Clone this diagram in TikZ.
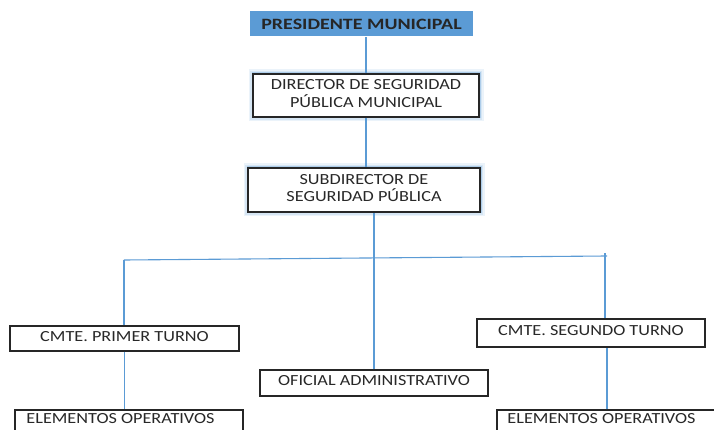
\documentclass[tikz,border=0pt]{standalone}
\usepackage{fontspec}
\setmainfont{Carlito}
\definecolor{lineblue}{RGB}{91,155,213}
\definecolor{headblue}{RGB}{91,155,213}
\definecolor{txt}{RGB}{40,40,40}
\newcommand{\stretchtxt}[1]{\scalebox{1.24}[1.05]{\begin{tabular}{@{}c@{}}#1\end{tabular}}}
\newcommand{\stretchbold}[1]{\scalebox{1.33}[1.05]{#1}}
\renewcommand{\arraystretch}{0.88}
\tikzset{
  box/.style={draw=black!85, line width=1.1pt, rectangle, inner sep=0pt, text=txt,
    font=\fontsize{14.7}{16}\selectfont},
  glowbox/.style={box, fill=white,
    preaction={draw=lineblue!12, line width=9pt},
    preaction={draw=lineblue!25, line width=6pt},
    preaction={draw=lineblue!50, line width=3pt}},
  conn/.style={draw=lineblue, line width=1.1pt},
  lbl/.style={text=txt, inner sep=0pt, font=\fontsize{14.7}{16}\selectfont},
}
\begin{document}
\begin{tikzpicture}[x=1pt,y=-1pt]
\useasboundingbox (0,0) rectangle (714,430);
\fill[white] (0,0) rectangle (714,430);
\node[rectangle, fill=headblue, minimum width=223pt, minimum height=25pt, inner sep=0pt,
  text=black!85, font=\fontsize{15}{16}\selectfont\bfseries] (pres) at (361.5,24) {\stretchbold{PRESIDENTE MUNICIPAL}};
\node[glowbox, minimum width=226pt, minimum height=43pt] (dir) at (366,95.5) {\stretchtxt{DIRECTOR DE SEGURIDAD\\PÚBLICA MUNICIPAL}};
\node[glowbox, minimum width=232pt, minimum height=44pt] (sub) at (364,190) {\stretchtxt{SUBDIRECTOR DE\\SEGURIDAD PÚBLICA}};
\node[box, minimum width=229pt, minimum height=25pt] (prim) at (124.5,338.5) {\stretchtxt{CMTE. PRIMER TURNO}};
\node[box, minimum width=228pt, minimum height=26pt] (ofi) at (374,383) {\stretchtxt{OFICIAL ADMINISTRATIVO}};
\node[box, minimum width=228pt, minimum height=28pt] (seg) at (591,333) {\stretchtxt{CMTE. SEGUNDO TURNO}};
\node[box, minimum width=228pt, minimum height=23pt] (el1) at (129,421.5) {};
\node[lbl] (el1t) at (120.5,420.5) {\stretchtxt{ELEMENTOS OPERATIVOS}};
\node[box, minimum width=220pt, minimum height=23pt] (el2) at (607,421.5) {};
\node[lbl] (el2t) at (601.5,420.5) {\stretchtxt{ELEMENTOS OPERATIVOS}};
\coordinate (busL) at (124,260);
\coordinate (busR) at (607,256);
\coordinate (busT) at (605,253);
\draw[conn] (dir.north) -- (dir.north |- pres.south);
\draw[conn] (dir.south) -- (dir.south |- sub.north);
\draw[conn] (ofi.north) -- (ofi.north |- sub.south);
\draw[conn] (busL) -- (busR);
\draw[conn] (busL) -- (busL |- prim.north);
\draw[conn] (busT) -- (busT |- seg.north);
\draw[conn] (prim.south) -- (prim.south |- el1.north);
\draw[conn] (el2.north) -- (el2.north |- seg.south);
\end{tikzpicture}
\end{document}
